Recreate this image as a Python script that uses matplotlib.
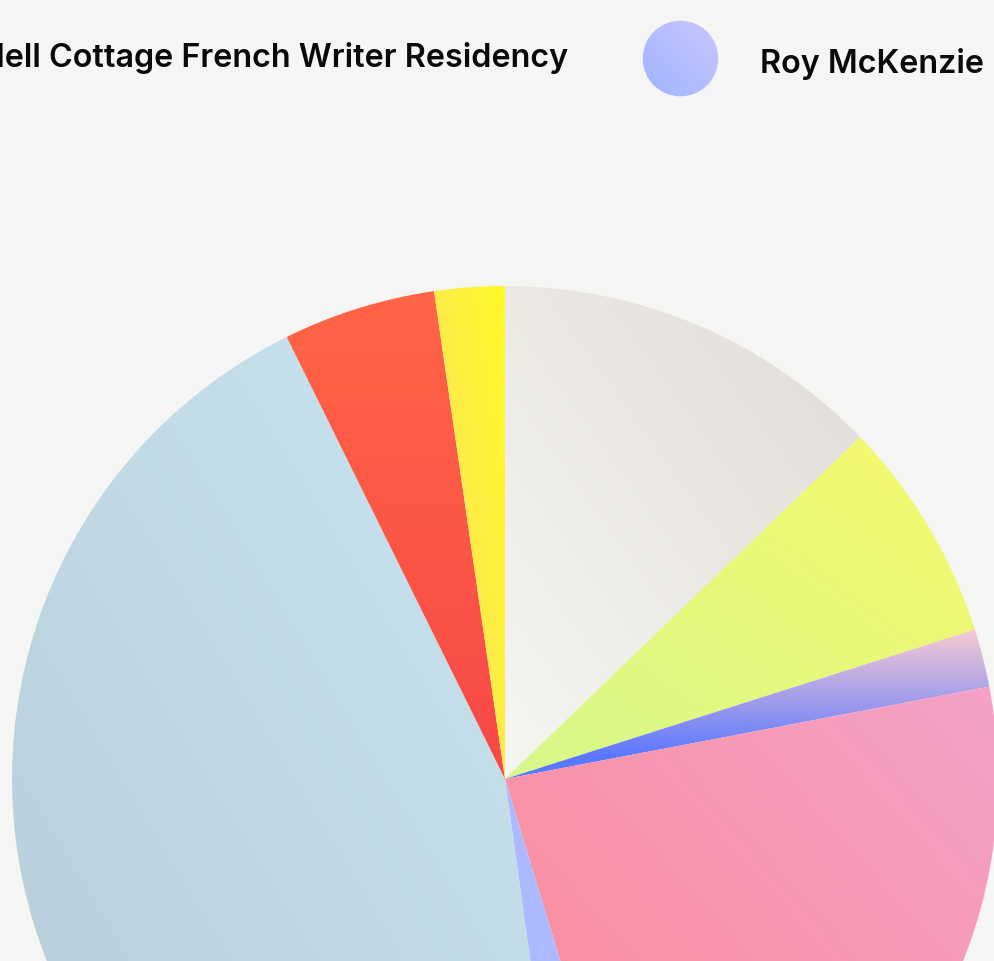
import numpy as np
import matplotlib
matplotlib.use("Agg")
import matplotlib.pyplot as plt
from matplotlib.colors import to_rgb
from matplotlib.patches import Circle

# ---- data (share of total, %) clockwise from 12 o'clock ----
categories = ["Category 1", "Category 2", "Category 3", "Category 4",
              "Roy McKenzie Foundation Award", "Category 6",
              "Category 7", "Randell Cottage French Writer Residency"]
values = [12.8, 7.3, 1.9, 23.3, 2.5, 44.9, 5.0, 2.3]

# gradient colours per slice: (start colour, end colour, start pt, end pt in bbox-normalised coords)
grad_start = ["#f6f6f2", "#d6f88a", "#5a78ff", "#fa8890", "#a8b6ff", "#b6cbd8", "#f84848", "#fcde66"]
grad_end   = ["#e0dbd6", "#f7f86c", "#f8cad2", "#f5a2ca", "#b2beff", "#c9e6f1", "#ff6545", "#fffa28"]
grad_p0 = [(0, 0), (0, 0), (0, 0.15), (0, 0), (0, 0), (0, 0), (0.5, 0), (0, 0)]
grad_p1 = [(1, 1), (1, 1), (0, 1.0), (1, 1), (1, 1), (1, 1), (0.5, 1), (1, 1)]

legend_labels = ["Randell Cottage French Writer Residency", "Roy McKenzie Foundation Award"]

BG = "#f5f5f3"
W, H = 994, 961
fig = plt.figure(figsize=(W / 100, H / 100), dpi=100, facecolor=BG)

# pie axes: whole figure, pie centre at (505, 779) px, radius 493 px
cx, cy, R = 505.0, 779.0, 493.0
ax = fig.add_axes([0, 0, 1, 1])
ax.set_facecolor(BG)
wedges, _ = ax.pie(values, startangle=90, counterclock=False, radius=1,
                   center=(0, 0), wedgeprops=dict(linewidth=0))
ax.set_aspect("auto")
ax.axis("off")


def gradient_image(c0, c1, p0, p1, n=256):
    u, v = np.meshgrid(np.linspace(0, 1, n), np.linspace(0, 1, n))
    d = np.array(p1, float) - np.array(p0, float)
    t = ((u - p0[0]) * d[0] + (v - p0[1]) * d[1]) / (d @ d)
    t = np.clip(t, 0, 1)[..., None]
    a, b = np.array(to_rgb(c0)), np.array(to_rgb(c1))
    return a + t * (b - a)


for i, w in enumerate(wedges):
    verts = w.get_path().vertices
    x0, y0 = verts.min(axis=0)
    x1, y1 = verts.max(axis=0)
    img = gradient_image(grad_start[i], grad_end[i], grad_p0[i], grad_p1[i])
    im = ax.imshow(img, origin="lower", extent=(x0, x1, y0, y1),
                   interpolation="bilinear", aspect="auto", zorder=2)
    im.set_clip_path(w)
    w.set_facecolor("none")
    w.set_edgecolor("none")
ax.set_xlim((0 - cx) / R, (W - cx) / R)
ax.set_ylim((cy - H) / R, (cy - 0) / R)

# ---- legend overlay (pixel coordinates) ----
lax = fig.add_axes([0, 0, 1, 1])
lax.axis("off")
lax.patch.set_alpha(0)

font = dict(family=["Inter", "DejaVu Sans"], fontsize=23.3, fontweight="semibold", color="#0a0a0a")
lax.text(568, 67, legend_labels[0], ha="right", va="baseline", **font)

circ = Circle((680.5, 58.5), 37.8, transform=lax.transData, facecolor="none", edgecolor="none")
lax.add_patch(circ)
cimg = gradient_image("#9fb3ff", "#cac8ff", (0, 0), (1, 1))
ci = lax.imshow(cimg, origin="lower", extent=(642, 719, 97, 20), interpolation="bilinear",
                aspect="auto")
ci.set_clip_path(circ)
lax.text(760, 72.5, legend_labels[1], ha="left", va="baseline", **font)
lax.set_xlim(0, W)
lax.set_ylim(H, 0)

fig.savefig("out.png", dpi=100, facecolor=BG)
